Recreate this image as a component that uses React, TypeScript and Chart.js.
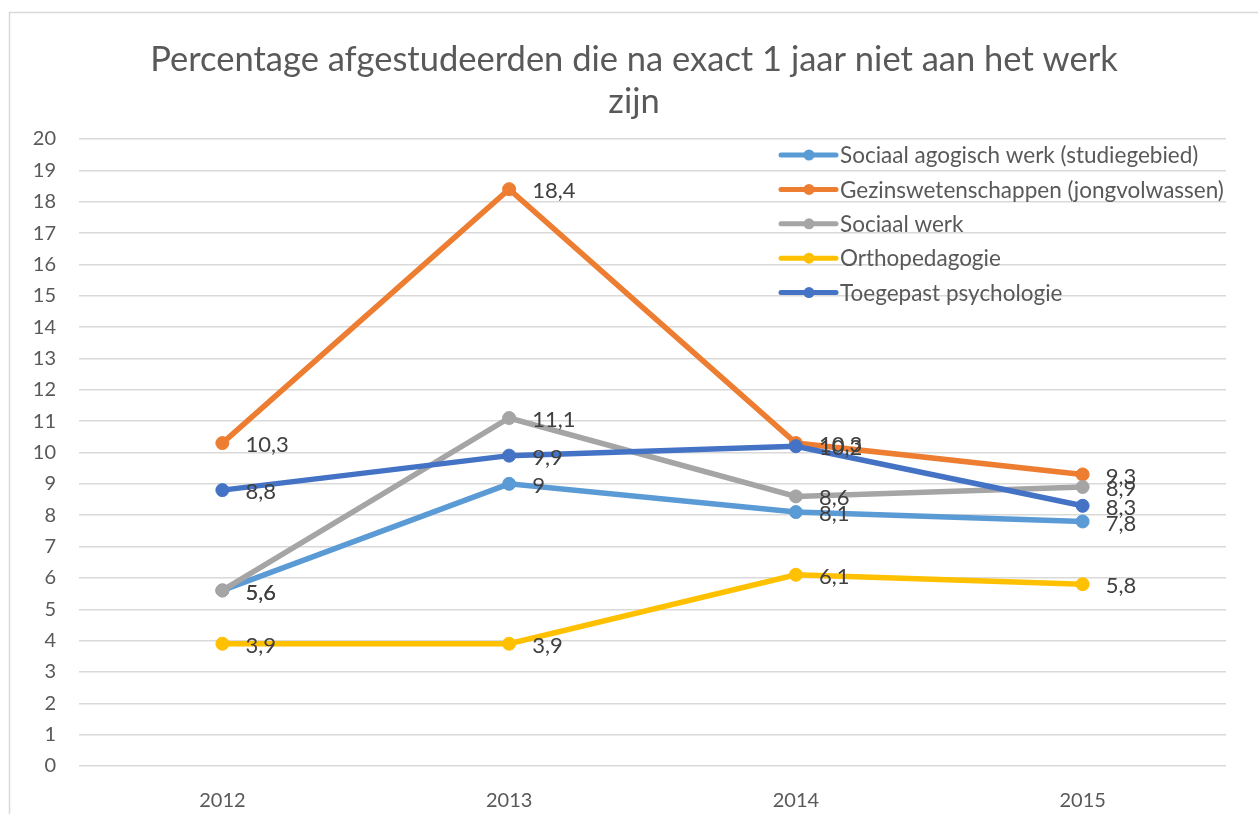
import React, { useEffect, useRef } from "react";
import { Chart, registerables } from "chart.js";

Chart.register(...registerables);

const years = ["2012", "2013", "2014", "2015"];
const seriesNames = [
  "Sociaal agogisch werk (studiegebied)",
  "Gezinswetenschappen (jongvolwassen)",
  "Sociaal werk",
  "Orthopedagogie",
  "Toegepast psychologie",
];
const sociaalAgogisch = [5.6, 9, 8.1, 7.8];
const gezinswetenschappen = [10.3, 18.4, 10.3, 9.3];
const sociaalWerk = [5.6, 11.1, 8.6, 8.9];
const orthopedagogie = [3.9, 3.9, 6.1, 5.8];
const toegepastPsychologie = [8.8, 9.9, 10.2, 8.3];
const seriesColors = ["#5B9BD5", "#ED7D31", "#A5A5A5", "#FFC000", "#4472C4"];
const titleLines = ["Percentage afgestudeerden die na exact 1 jaar niet aan het werk", "zijn"];

const FONT = "Lato, 'Open Sans', sans-serif";

const decorPlugin = {
  id: "decor",
  beforeDraw(chart: any) {
    const ctx = chart.ctx;
    ctx.save();
    ctx.fillStyle = "#ffffff";
    ctx.fillRect(0, 0, chart.width, chart.height);
    ctx.strokeStyle = "#D9D9D9";
    ctx.lineWidth = 1.5;
    ctx.beginPath();
    ctx.moveTo(9, 12.5);
    ctx.lineTo(chart.width, 12.5);
    ctx.moveTo(9.5, 12);
    ctx.lineTo(9.5, chart.height);
    ctx.stroke();
    // title
    ctx.fillStyle = "#595959";
    ctx.font = `34.5px ${FONT}`;
    ctx.textAlign = "center";
    ctx.textBaseline = "middle";
    ctx.fillText(titleLines[0], 634, 60);
    ctx.fillText(titleLines[1], 634, 102);
    ctx.restore();
  },
  afterDraw(chart: any) {
    const ctx = chart.ctx;
    const area = chart.chartArea;
    ctx.save();
    // data labels
    ctx.font = `22px ${FONT}`;
    ctx.fillStyle = "#404040";
    ctx.textAlign = "left";
    ctx.textBaseline = "middle";
    chart.data.datasets.forEach((ds: any, di: number) => {
      const meta = chart.getDatasetMeta(di);
      meta.data.forEach((pt: any, i: number) => {
        const v = ds.data[i];
        ctx.fillText(String(v).replace(".", ","), pt.x + 23, pt.y + 2);
      });
    });
    // legend
    const lx = area.right - 445;
    seriesNames.forEach((name, i) => {
      const y = area.top + 16 + i * 34.4;
      ctx.strokeStyle = seriesColors[i];
      ctx.lineWidth = 5;
      ctx.lineCap = "round";
      ctx.beginPath();
      ctx.moveTo(lx, y);
      ctx.lineTo(lx + 55, y);
      ctx.stroke();
      ctx.fillStyle = seriesColors[i];
      ctx.beginPath();
      ctx.arc(lx + 28, y, 5.5, 0, Math.PI * 2);
      ctx.fill();
      ctx.fillStyle = "#595959";
      ctx.font = `22.5px ${FONT}`;
      ctx.fillText(name, lx + 59, y + 1);
    });
    ctx.restore();
  },
};

export default function App() {
  const ref = useRef<HTMLCanvasElement>(null);
  useEffect(() => {
    const all = [sociaalAgogisch, gezinswetenschappen, sociaalWerk, orthopedagogie, toegepastPsychologie];
    const chart = new Chart(ref.current!, {
      type: "line",
      data: {
        labels: years,
        datasets: all.map((d, i) => ({
          label: seriesNames[i],
          data: d,
          borderColor: seriesColors[i],
          backgroundColor: seriesColors[i],
          pointBackgroundColor: seriesColors[i],
          pointBorderColor: seriesColors[i],
          borderWidth: 5.5,
          pointRadius: 6.5,
          pointBorderWidth: 1,
          tension: 0,
          order: all.length - 1 - i,
        })),
      },
      options: {
        responsive: false,
        animation: false,
        layout: { padding: { top: 139, right: 32, left: 0, bottom: 0 } },
        plugins: {
          legend: { display: false },
          title: { display: false },
          tooltip: { enabled: false },
        },
        scales: {
          x: {
            offset: true,
            grid: { display: false, drawTicks: false },
            border: { display: false },
            ticks: { color: "#595959", font: { family: FONT, size: 20 }, padding: 23 },
            afterFit: (s: any) => {
              s.height = 48;
            },
          },
          y: {
            min: 0,
            max: 20,
            grid: { color: "#D9D9D9", lineWidth: 1.5, drawTicks: false },
            border: { display: false },
            ticks: { stepSize: 1, color: "#595959", font: { family: FONT, size: 20 }, padding: 23 },
            afterFit: (s: any) => {
              s.width = 79;
            },
          },
        },
      },
      plugins: [decorPlugin],
    });
    return () => chart.destroy();
  }, []);
  return (
    <div style={{ position: "absolute", left: 0, top: 0, width: 1258, height: 814 }}>
      <canvas ref={ref} width={1258} height={814} />
    </div>
  );
}
